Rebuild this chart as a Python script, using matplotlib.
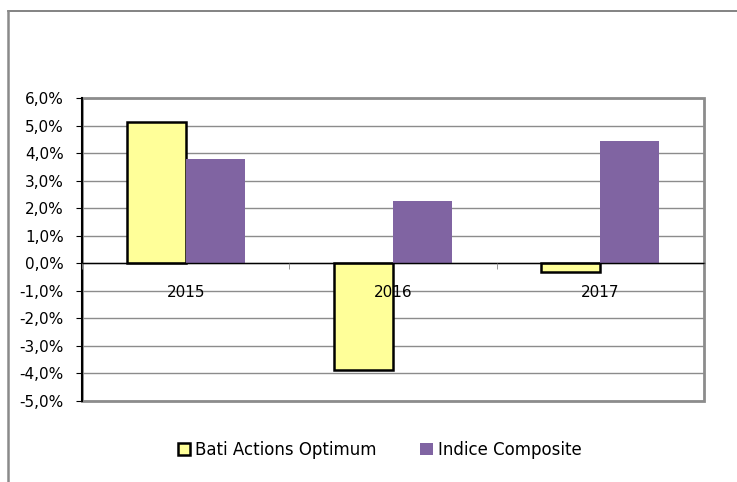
import matplotlib
matplotlib.use('Agg')
import matplotlib.pyplot as plt
from matplotlib.patches import Rectangle
from matplotlib.lines import Line2D
from matplotlib.ticker import FuncFormatter, FixedLocator
import numpy as np

# Data (annual performance, %)
years = ['2015', '2016', '2017']
bati_actions = [5.12, -3.87, -0.32]
indice_composite = [3.78, 2.27, 4.44]
series_names = ['Bati Actions Optimum', 'Indice Composite']
y_ticks = [-5, -4, -3, -2, -1, 0, 1, 2, 3, 4, 5, 6]

plt.rcParams['font.family'] = ['DejaVu Sans']
plt.rcParams['font.size'] = 11

fig = plt.figure(figsize=(7.37, 4.82), dpi=100)
ax = fig.add_axes([82 / 737, 1 - 401 / 482, (704 - 82) / 737, (401 - 98) / 482])

x = np.arange(len(years))
width = 0.285

# horizontal grid drawn under the bars; axis (labels) drawn above them
for yv in y_ticks:
    ax.axhline(yv, color='#8c8c8c', linewidth=1, zorder=0.5)

ax.bar(x - width / 2, bati_actions, width, color='#FFFF99', edgecolor='black',
       linewidth=1.8, label=series_names[0], zorder=1)
ax.bar(x + width / 2, indice_composite, width, color='#8064A2', edgecolor='none',
       label=series_names[1], zorder=1)

ax.set_xlim(-0.5, len(years) - 0.5)
ax.set_ylim(y_ticks[0], y_ticks[-1])
ax.set_yticks(y_ticks)
ax.yaxis.set_major_formatter(FuncFormatter(lambda v, p: f'{v:.1f}%'.replace('.', ',')))
ax.set_axisbelow(False)

# category labels sit under the zero line, ticks at category boundaries
ax.set_xticks(x)
ax.set_xticklabels(years)
ax.xaxis.set_minor_locator(FixedLocator(np.arange(-0.5, len(years), 1.0)))
ax.tick_params(axis='x', which='major', length=0, pad=16, colors='black')
ax.tick_params(axis='x', which='minor', length=4, color='#868686', direction='out')
ax.tick_params(axis='y', length=4, pad=9, color='black', direction='out')

ax.spines['bottom'].set_position(('data', 0))
ax.spines['bottom'].set_color('black')
ax.spines['bottom'].set_linewidth(1)
ax.spines['left'].set_color('black')
ax.spines['left'].set_linewidth(1.5)
for side in ['top', 'right']:
    ax.spines[side].set_visible(False)

# gray plot-area border
ax.add_patch(Rectangle((0, 0), 1, 1, transform=ax.transAxes, fill=False,
                       edgecolor='#8c8c8c', linewidth=2, clip_on=False, zorder=0.6))

leg = fig.legend(loc='center', bbox_to_anchor=(379.5 / 737, 1 - 450 / 482), ncol=2,
                 frameon=False, handlelength=0.75, handleheight=0.75,
                 handletextpad=0.3, columnspacing=2.6, fontsize=12)

# outer chart border (top and left visible)
fig.add_artist(Line2D([8 / 737, 1], [1 - 11 / 482, 1 - 11 / 482],
                      transform=fig.transFigure, color='#6e6e6e', linewidth=1.2))
fig.add_artist(Line2D([8 / 737, 8 / 737], [0, 1 - 11 / 482],
                      transform=fig.transFigure, color='#8a8a8a', linewidth=1.8))

fig.savefig('out.png', dpi=100)
